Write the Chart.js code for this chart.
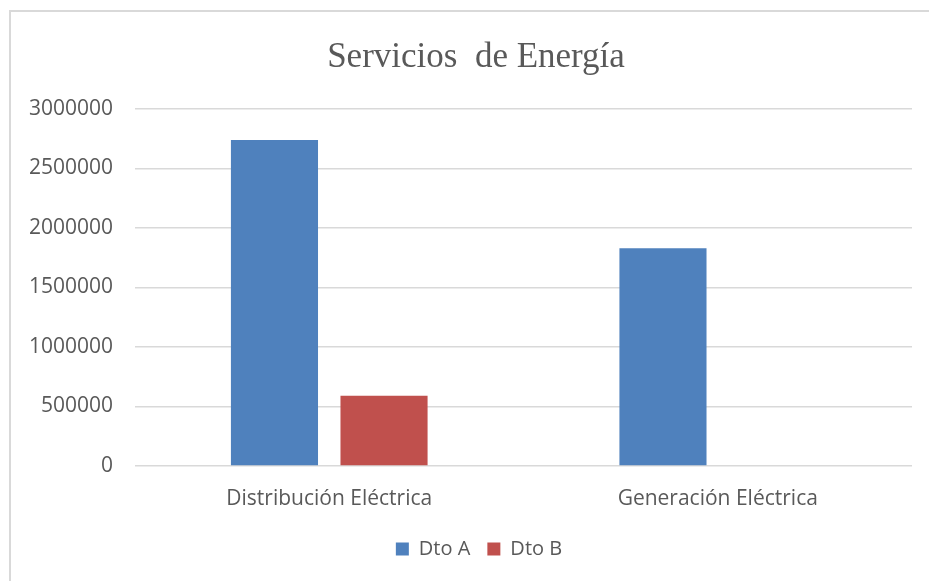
<!DOCTYPE html>
<html>
<head>
<meta charset="utf-8">
<script src="https://cdn.jsdelivr.net/npm/chart.js@4"></script>
<style>
    html, body { margin: 0; padding: 0; background: #fff; overflow: hidden; }
    #wrap { position: relative; width: 929px; height: 581px; }
    #frame { position: absolute; left: 9px; top: 10px; width: 960px; height: 620px; border: 2px solid #d9d9d9; box-sizing: border-box; }
    canvas { position: absolute; left: 0; top: 0; }
</style>
</head>
<body>
<div id="wrap">
    <div id="frame"></div>
    <canvas id="chart" width="929" height="581"></canvas>
</div>
<script>
// Chart data
const categories = ['Distribución Eléctrica', 'Generación Eléctrica'];
const dtoA = [2740000, 1830000];
const dtoB = [590000, 0];
const yTicks = [0, 500000, 1000000, 1500000, 2000000, 2500000, 3000000];

const textColor = '#595959';
const sansFont = "'Open Sans', 'DejaVu Sans', sans-serif";

// Title and legend sit centred on the outer frame, a bit right of the canvas centre
const shiftBoxes = {
    id: 'shiftBoxes',
    afterLayout(chart) {
        if (chart.titleBlock) {
            chart.titleBlock.left += 20;
            chart.titleBlock.right += 20;
        }
        if (chart.legend) {
            chart.legend.left += 23;
            chart.legend.right += 23;
        }
    }
};

new Chart(document.getElementById('chart'), {
    type: 'bar',
    data: {
        labels: categories,
        datasets: [{
            label: 'Dto A',
            data: dtoA,
            backgroundColor: '#4f81bd',
            categoryPercentage: 0.564,
            barPercentage: 0.795
        }, {
            label: 'Dto B',
            data: dtoB,
            backgroundColor: '#c0504d',
            categoryPercentage: 0.564,
            barPercentage: 0.795
        }]
    },
    options: {
        responsive: false,
        animation: false,
        layout: { padding: { left: 0, right: 17, top: 0, bottom: 12 } },
        plugins: {
            title: {
                display: true,
                text: 'Servicios  de Energía',
                color: textColor,
                font: { family: "'Liberation Serif', 'Times New Roman', serif", size: 35, weight: 'normal' },
                padding: { top: 37, bottom: 30 }
            },
            legend: {
                position: 'bottom',
                labels: {
                    color: textColor,
                    font: { family: sansFont, size: 20 },
                    boxWidth: 13,
                    boxHeight: 13,
                    padding: 17
                }
            },
            tooltip: { enabled: false }
        },
        scales: {
            x: {
                grid: { display: false },
                border: { display: false },
                ticks: {
                    color: textColor,
                    font: { family: sansFont, size: 21 },
                    padding: 12
                },
                afterFit: (scale) => { scale.height = 56; }
            },
            y: {
                min: 0,
                max: 3000000,
                afterBuildTicks: (scale) => { scale.ticks = yTicks.map(v => ({ value: v })); },
                grid: { color: '#d9d9d9', lineWidth: 1.5, drawTicks: false },
                border: { display: false },
                ticks: {
                    color: textColor,
                    font: { family: sansFont, size: 21 },
                    padding: 22,
                    callback: (v) => String(v)
                },
                afterFit: (scale) => { scale.width = 135; }
            }
        }
    },
    plugins: [shiftBoxes]
});
</script>
</body>
</html>
